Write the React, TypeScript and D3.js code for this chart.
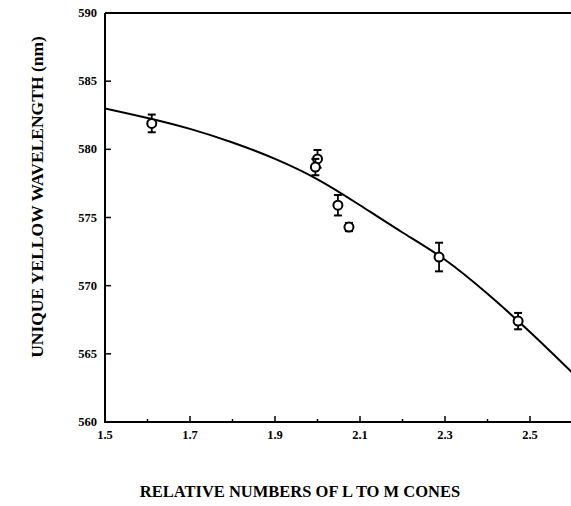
import React, { useEffect, useRef } from 'react'
import * as d3 from 'd3'

// measured points: ratio L:M, unique yellow (nm), error bar half-size
const ratios = [1.61, 2.0, 1.995, 2.048, 2.074, 2.286, 2.472]
const yellows = [581.9, 579.3, 578.7, 575.9, 574.3, 572.1, 567.4]
const errors = [0.65, 0.65, 0.6, 0.75, 0.3, 1.05, 0.6]

// model curve
const curveX = [1.5, 1.6, 1.7, 1.8, 1.9, 2.0, 2.1, 2.2, 2.3, 2.4, 2.5, 2.6]
const curveY = [583.0, 582.3, 581.5, 580.5, 579.3, 577.8, 575.9, 573.9, 571.9, 569.4, 566.6, 563.6]

const xTicks = [1.5, 1.7, 1.9, 2.1, 2.3, 2.5]
const xMinor = [1.6, 1.8, 2.0, 2.2, 2.4]
const yTicks = [560, 565, 570, 575, 580, 585, 590]

const font = '"Liberation Serif", "DejaVu Serif", serif'

function App() {
	const ref = useRef<SVGSVGElement>(null)

	useEffect(() => {
		const svg = d3.select(ref.current)
		svg.selectAll('*').remove()

		const left = 105
		const right = 572
		const top = 13
		const bottom = 422

		const x = d3.scaleLinear().domain([1.5, 2.6]).range([left, left + 1.1 * 425])
		const y = d3.scaleLinear().domain([560, 590]).range([bottom, top])

		const g = svg.append('g')

		// frame
		g.append('path')
			.attr('d', `M${left},${top}H${right}M${left},${top}V${bottom}H${right}`)
			.attr('fill', 'none')
			.attr('stroke', '#000')
			.attr('stroke-width', 2)

		// x ticks (pointing up into the plot)
		g.selectAll('.xt')
			.data(xTicks)
			.enter()
			.append('line')
			.attr('x1', (d) => x(d))
			.attr('x2', (d) => x(d))
			.attr('y1', bottom)
			.attr('y2', bottom - 6)
			.attr('stroke', '#000')
			.attr('stroke-width', 1.5)

		g.selectAll('.xm')
			.data(xMinor)
			.enter()
			.append('line')
			.attr('x1', (d) => x(d))
			.attr('x2', (d) => x(d))
			.attr('y1', bottom)
			.attr('y2', bottom - 3)
			.attr('stroke', '#000')
			.attr('stroke-width', 1.5)

		g.selectAll('.xl')
			.data(xTicks)
			.enter()
			.append('text')
			.attr('x', (d) => x(d))
			.attr('y', bottom + 17)
			.attr('text-anchor', 'middle')
			.attr('font-family', font)
			.attr('font-weight', 'bold')
			.attr('font-size', 12.5)
			.text((d) => d.toFixed(1))

		// y ticks
		g.selectAll('.yt')
			.data(yTicks.filter((d) => d !== 560 && d !== 590))
			.enter()
			.append('line')
			.attr('x1', left)
			.attr('x2', left + 6)
			.attr('y1', (d) => y(d))
			.attr('y2', (d) => y(d))
			.attr('stroke', '#000')
			.attr('stroke-width', 1.5)

		g.selectAll('.yl')
			.data(yTicks)
			.enter()
			.append('text')
			.attr('x', left - 8)
			.attr('y', (d) => y(d) + 4)
			.attr('text-anchor', 'end')
			.attr('font-family', font)
			.attr('font-weight', 'bold')
			.attr('font-size', 12.5)
			.text((d) => d)

		// model curve
		const line = d3
			.line<number>()
			.x((d, i) => x(curveX[i]))
			.y((d) => y(d))
			.curve(d3.curveNatural)

		const clip = svg.append('clipPath').attr('id', 'plot')
		clip.append('rect').attr('x', left).attr('y', top).attr('width', right - left).attr('height', bottom - top)

		g.append('path')
			.datum(curveY)
			.attr('d', line)
			.attr('fill', 'none')
			.attr('stroke', '#000')
			.attr('stroke-width', 2)
			.attr('clip-path', 'url(#plot)')

		// points with error bars
		const pts = g
			.selectAll('.pt')
			.data(ratios.map((r, i) => ({ r, v: yellows[i], e: errors[i] })))
			.enter()
			.append('g')

		pts.append('line')
			.attr('x1', (d) => x(d.r))
			.attr('x2', (d) => x(d.r))
			.attr('y1', (d) => y(d.v + d.e))
			.attr('y2', (d) => y(d.v - d.e))
			.attr('stroke', '#000')
			.attr('stroke-width', 1.8)

		pts.selectAll('.cap')
			.data((d) => [d.v + d.e, d.v - d.e].map((v) => ({ r: d.r, v })))
			.enter()
			.append('line')
			.attr('x1', (d) => x(d.r) - 4)
			.attr('x2', (d) => x(d.r) + 4)
			.attr('y1', (d) => y(d.v))
			.attr('y2', (d) => y(d.v))
			.attr('stroke', '#000')
			.attr('stroke-width', 2)

		pts.append('circle')
			.attr('cx', (d) => x(d.r))
			.attr('cy', (d) => y(d.v))
			.attr('r', 4.5)
			.attr('fill', '#fff')
			.attr('stroke', '#000')
			.attr('stroke-width', 2)

		// axis titles
		svg.append('text')
			.attr('transform', `translate(43, 197) rotate(-90)`)
			.attr('text-anchor', 'middle')
			.attr('font-family', font)
			.attr('font-weight', 'bold')
			.attr('font-size', 17.5)
			.text('UNIQUE YELLOW WAVELENGTH (nm)')

		svg.append('text')
			.attr('x', 300)
			.attr('y', 497)
			.attr('text-anchor', 'middle')
			.attr('font-family', font)
			.attr('font-weight', 'bold')
			.attr('font-size', 16.5)
			.text('RELATIVE NUMBERS OF L TO M CONES')
	}, [])

	return (
		<svg
			ref={ref}
			width={571}
			height={506}
			style={{ position: 'absolute', left: 0, top: 0, background: '#fff' }}
		/>
	)
}

export default App
